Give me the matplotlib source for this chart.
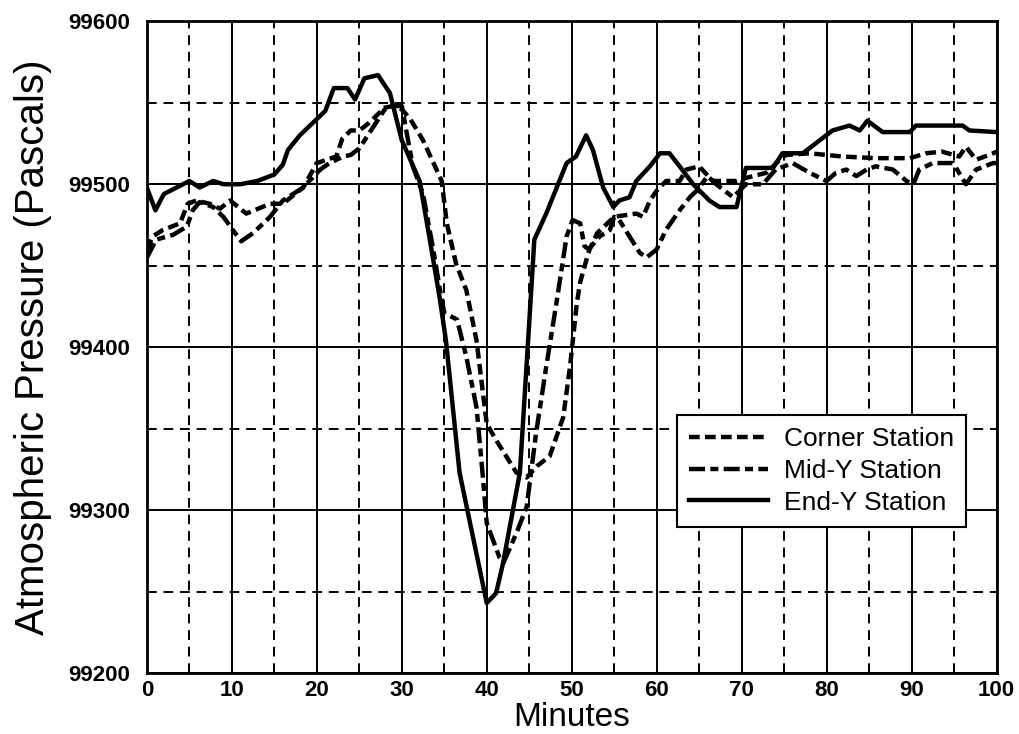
import matplotlib
matplotlib.use('Agg')
import matplotlib.pyplot as plt
from matplotlib.ticker import MultipleLocator

# End-Y station (solid)
endTimes = [0, 1, 2, 5, 6.2, 7.8, 9, 11, 13, 15, 16, 16.6, 18, 20, 21, 22, 23.6, 24.5, 25.6,
            27.2, 28.6, 30, 32.1, 33.3, 34.5, 35.2, 36.8, 40, 41.1, 41.9, 43.9, 45, 45.6, 47,
            49.4, 50.5, 51.7, 52.5, 53.7, 54.9, 55.6, 56.8, 57.6, 59.2, 60.4, 61.5, 62.7, 64.3,
            66.2, 67.4, 69.4, 70.5, 73.7, 74.8, 77.2, 79.2, 80.7, 82.7, 83.9, 84.8, 86.6, 89.8,
            90.5, 96, 96.8, 100]
endValues = [99498, 99484, 99494, 99502, 99498, 99502, 99500, 99500, 99502, 99506, 99512, 99521,
             99530, 99540, 99545, 99559, 99559, 99552, 99565, 99567, 99556, 99527, 99502, 99466,
             99429, 99404, 99323, 99243, 99249, 99267, 99323, 99415, 99466, 99482, 99513, 99517,
             99530, 99521, 99498, 99486, 99490, 99492, 99502, 99511, 99519, 99519, 99511, 99500,
             99490, 99486, 99486, 99510, 99510, 99519, 99519, 99527, 99533, 99536, 99533, 99539,
             99532, 99532, 99536, 99536, 99533, 99532]

# Corner station (dashed)
cornerTimes = [0, 0.7, 1.9, 3.9, 4.8, 5.8, 7.4, 8.6, 9.8, 11.7, 14.5, 16, 18.4, 20, 22.3, 23, 24,
               25, 26, 27, 28, 29, 30, 31, 32.5, 34.7, 35.3, 36.4, 37.6, 38.8, 39.5, 40, 41.1,
               42.3, 43.5, 44.7, 45.9, 47.4, 49, 49.8, 50.6, 51, 51.7, 52.1, 53, 55, 57.6, 58.4,
               59.2, 60, 61.1, 62.7, 63.5, 65, 66.6, 69.4, 70.6, 72.9, 74.9, 75.3, 78, 81.9, 85.8,
               89.8, 91.7, 93.6, 95.6, 96.4, 97.6, 99.6, 100]
cornerValues = [99460, 99468, 99472, 99476, 99488, 99490, 99488, 99485, 99490, 99482, 99488,
                99488, 99498, 99513, 99517, 99528, 99533, 99533, 99537, 99542, 99547, 99548, 99546,
                99540, 99527, 99502, 99476, 99451, 99435, 99404, 99374, 99353, 99343, 99333, 99323,
                99320, 99327, 99333, 99357, 99388, 99427, 99440, 99453, 99460, 99470, 99480, 99482,
                99480, 99490, 99496, 99502, 99502, 99509, 99511, 99502, 99502, 99504, 99507, 99517,
                99518, 99519, 99517, 99516, 99516, 99519, 99520, 99517, 99523, 99515, 99519, 99520]

# Mid-Y station (long/short dash)
midTimes = [0, 1.1, 3.1, 4.7, 5.4, 6.2, 7.8, 9, 10.1, 11.1, 12.5, 14.5, 16, 18.4, 20.4, 21.5, 23.1,
            24, 25, 26, 27, 28, 29, 30, 31.3, 32.5, 33.7, 34.5, 35, 36.5, 37.6, 38.8, 39.5, 40,
            41.5, 42, 43.5, 44.7, 45.8, 47, 48.2, 49.4, 50.1, 51, 51.5, 52, 53.3, 54.5, 55, 55.6,
            56.8, 58, 58.8, 60, 61.1, 62.7, 63.9, 64.7, 66, 67, 69, 70.5, 72.5, 74, 76, 78, 80,
            81.1, 82.3, 83.5, 84.7, 85.8, 87.8, 89.4, 90.2, 90.9, 92.5, 94.9, 96.4, 97.6, 99.6, 100]
midValues = [99455, 99466, 99469, 99474, 99484, 99489, 99486, 99480, 99472, 99465, 99470, 99480,
             99490, 99498, 99509, 99513, 99517, 99518, 99522, 99530, 99538, 99546, 99548, 99548,
             99511, 99494, 99460, 99435, 99421, 99417, 99394, 99363, 99323, 99292, 99271, 99268,
             99286, 99302, 99347, 99388, 99427, 99468, 99478, 99476, 99462, 99460, 99468, 99472,
             99480, 99478, 99468, 99458, 99455, 99460, 99472, 99484, 99492, 99496, 99505, 99500,
             99492, 99500, 99500, 99509, 99513, 99507, 99502, 99507, 99509, 99505, 99509, 99511,
             99509, 99502, 99500, 99509, 99513, 99513, 99500, 99509, 99513, 99513]

plt.rcParams['font.family'] = ['Liberation Sans', 'DejaVu Sans']

fig = plt.figure(figsize=(10.2, 7.34), dpi=100)
ax = fig.add_axes([0.144, 0.083, 0.833, 0.888])

ax.plot(cornerTimes, cornerValues, color='k', lw=3.2, linestyle=(0, (2.4, 1.2)), label='Corner Station')
ax.plot(midTimes, midValues, color='k', lw=3.2, linestyle=(0, (3.6, 1.2, 1.8, 1.2)), label='Mid-Y Station')
ax.plot(endTimes, endValues, color='k', lw=3.2, label='End-Y Station')

ax.set_xlim(0, 100)
ax.set_ylim(99200, 99600)
ax.xaxis.set_major_locator(MultipleLocator(10))
ax.xaxis.set_minor_locator(MultipleLocator(5))
ax.yaxis.set_major_locator(MultipleLocator(100))
ax.yaxis.set_minor_locator(MultipleLocator(50))
ax.grid(which='major', color='k', lw=1.4, ls='-')
ax.grid(which='minor', color='k', lw=1.4, ls=(0, (5, 3.5)))
ax.set_axisbelow(True)
ax.tick_params(which='both', length=0)
ax.tick_params(axis='y', pad=12, labelsize=16)
ax.tick_params(axis='x', pad=5, labelsize=16)
for lab in ax.get_xticklabels() + ax.get_yticklabels():
    lab.set_fontweight('bold')
for s in ax.spines.values():
    s.set_linewidth(2)

ax.set_xlabel('Minutes', fontsize=24, labelpad=1)
ax.set_ylabel('Atmospheric Pressure (Pascals)', fontsize=29, labelpad=12)

leg = ax.legend(loc='upper left', bbox_to_anchor=(0.624, 0.396), fontsize=19, handlelength=3.0,
                frameon=True, fancybox=False, edgecolor='k', framealpha=1, borderpad=0.45,
                labelspacing=0.3, handletextpad=0.6, borderaxespad=0)
leg.get_frame().set_linewidth(1.5)

fig.savefig('out.png', dpi=100)
